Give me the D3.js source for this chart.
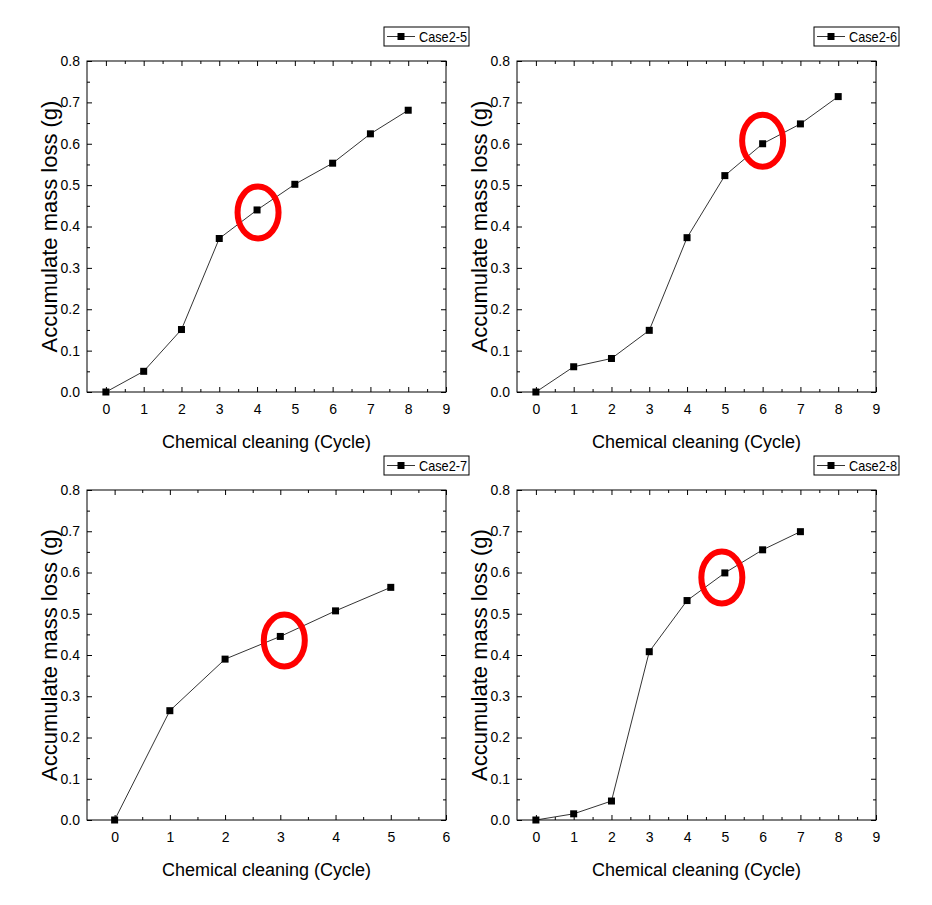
<!DOCTYPE html>
<html>
<head>
<meta charset="utf-8">
<script src="https://cdn.jsdelivr.net/npm/d3@7"></script>
<style>
  body { margin: 0; background: #fff; }
  svg text { font-family: Arial, "Liberation Sans", sans-serif; fill: #000; }
</style>
</head>
<body>
<svg id="chartSVG" width="932" height="905"></svg>
<script>
// data
let caseNames = ['Case2-5', 'Case2-6', 'Case2-7', 'Case2-8'];
let cycles25 = [0, 1, 2, 3, 4, 5, 6, 7, 8];
let loss25 = [0, 0.050, 0.151, 0.371, 0.440, 0.502, 0.553, 0.624, 0.681];
let cycles26 = [0, 1, 2, 3, 4, 5, 6, 7, 8];
let loss26 = [0, 0.061, 0.081, 0.149, 0.373, 0.523, 0.600, 0.648, 0.714];
let cycles27 = [0, 1, 2, 3, 4, 5];
let loss27 = [0, 0.265, 0.390, 0.445, 0.507, 0.564];
let cycles28 = [0, 1, 2, 3, 4, 5, 6, 7];
let loss28 = [0, 0.015, 0.046, 0.408, 0.532, 0.599, 0.655, 0.699];
let xMaxes = [9, 9, 6, 9];
let circledCycle = [4, 6, 3, 5];
let yTicks = [0, 0.1, 0.2, 0.3, 0.4, 0.5, 0.6, 0.7, 0.8];
let yTitle = 'Accumulate mass loss (g)';
let xTitle = 'Chemical cleaning (Cycle)';

let svg = d3.select('svg#chartSVG');

// panel layout (pixels)
let panels = [
  { name: caseNames[0], xs: cycles25, ys: loss25, xMax: xMaxes[0], ring: circledCycle[0], left: 87, top: 61, w: 359, h: 331, rdx: 1, rdy: 2.5 },
  { name: caseNames[1], xs: cycles26, ys: loss26, xMax: xMaxes[1], ring: circledCycle[1], left: 517, top: 61, w: 359, h: 331, rdx: 0, rdy: -3 },
  { name: caseNames[2], xs: cycles27, ys: loss27, xMax: xMaxes[2], ring: circledCycle[2], left: 87, top: 490, w: 359, h: 330, rdx: 4, rdy: 4 },
  { name: caseNames[3], xs: cycles28, ys: loss28, xMax: xMaxes[3], ring: circledCycle[3], left: 517, top: 490, w: 359, h: 330, rdx: -3, rdy: 4.5 }
];

function drawPanel(p) {
  let g = svg.append('g').attr('transform', `translate(${p.left}, ${p.top})`);

  let xScale = d3.scaleLinear().domain([-0.5, p.xMax]).range([0, p.w]);
  let yScale = d3.scaleLinear().domain([0, 0.8]).range([p.h, 0]);

  let majorX = d3.range(0, p.xMax + 1);
  let minorX = d3.range(0.5, p.xMax, 1);
  let minorY = d3.range(0.05, 0.8, 0.1);

  // bottom axis with labels, ticks pointing in
  let gX = g.append('g').attr('transform', `translate(0, ${p.h})`)
    .call(d3.axisBottom(xScale).tickValues(majorX).tickFormat(d3.format('d'))
      .tickSize(-5).tickSizeOuter(0).tickPadding(12));
  gX.selectAll('text').style('font-size', '14px');
  g.append('g').attr('transform', `translate(0, ${p.h})`)
    .call(d3.axisBottom(xScale).tickValues(minorX).tickFormat('').tickSize(-3).tickSizeOuter(0));

  // left axis with labels
  let gY = g.append('g')
    .call(d3.axisLeft(yScale).tickValues(yTicks).tickFormat(d3.format('.1f'))
      .tickSize(-5).tickSizeOuter(0).tickPadding(7));
  gY.selectAll('text').style('font-size', '14px');
  g.append('g')
    .call(d3.axisLeft(yScale).tickValues(minorY).tickFormat('').tickSize(-3).tickSizeOuter(0));

  // mirrored top and right ticks
  g.append('g')
    .call(d3.axisTop(xScale).tickValues(majorX).tickFormat('').tickSize(-5).tickSizeOuter(0));
  g.append('g')
    .call(d3.axisTop(xScale).tickValues(minorX).tickFormat('').tickSize(-3).tickSizeOuter(0));
  g.append('g').attr('transform', `translate(${p.w}, 0)`)
    .call(d3.axisRight(yScale).tickValues(yTicks).tickFormat('').tickSize(-5).tickSizeOuter(0));
  g.append('g').attr('transform', `translate(${p.w}, 0)`)
    .call(d3.axisRight(yScale).tickValues(minorY).tickFormat('').tickSize(-3).tickSizeOuter(0));

  g.selectAll('.domain').remove();
  g.append('rect')
    .attr('width', p.w).attr('height', p.h)
    .attr('fill', 'none').attr('stroke', '#000').attr('stroke-width', 1);

  // data line and square markers
  let pts = p.xs.map((x, i) => ({ x: x, y: p.ys[i] }));
  let line = d3.line().x(d => xScale(d.x)).y(d => yScale(d.y));
  g.append('path').datum(pts)
    .attr('d', line).attr('fill', 'none')
    .attr('stroke', '#000').attr('stroke-width', 0.8);
  g.selectAll('rect.pt').data(pts).enter().append('rect')
    .attr('class', 'pt')
    .attr('x', d => xScale(d.x) - 3.5).attr('y', d => yScale(d.y) - 3.5)
    .attr('width', 7).attr('height', 7).attr('fill', '#000');

  // red ring around the highlighted cycle
  let ringPt = pts.find(d => d.x == p.ring);
  g.append('ellipse')
    .attr('cx', xScale(ringPt.x) + p.rdx).attr('cy', yScale(ringPt.y) + p.rdy)
    .attr('rx', 20.5).attr('ry', 26)
    .attr('fill', 'none').attr('stroke', '#ff0000').attr('stroke-width', 6);

  // axis titles
  g.append('text')
    .attr('text-anchor', 'middle')
    .attr('transform', `translate(-30, ${p.h / 2}) rotate(-90)`)
    .style('font-size', '22px')
    .text(yTitle);
  g.append('text')
    .attr('text-anchor', 'middle')
    .attr('x', p.w / 2).attr('y', p.h + 56)
    .style('font-size', '18px')
    .text(xTitle);

  // legend box
  let lg = g.append('g').attr('transform', `translate(${p.w - 62}, -34)`);
  lg.append('rect').attr('width', 85).attr('height', 19)
    .attr('fill', '#fff').attr('stroke', '#000').attr('stroke-width', 1);
  lg.append('line').attr('x1', 3).attr('x2', 31).attr('y1', 9.5).attr('y2', 9.5)
    .attr('stroke', '#000').attr('stroke-width', 0.8);
  lg.append('rect').attr('x', 13.5).attr('y', 6).attr('width', 7).attr('height', 7).attr('fill', '#000');
  lg.append('text').attr('x', 35).attr('y', 15)
    .attr('textLength', 48).attr('lengthAdjust', 'spacingAndGlyphs')
    .style('font-size', '15px')
    .text(p.name);
}

panels.forEach(drawPanel);
</script>
</body>
</html>
